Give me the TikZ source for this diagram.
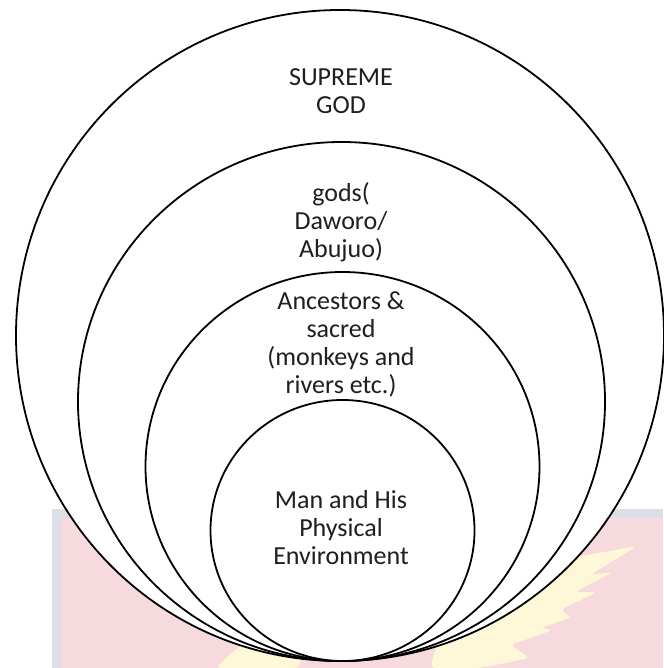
\documentclass[tikz,border=0pt]{standalone}
\usepackage{fontspec}
\setmainfont{Carlito}
\usetikzlibrary{shapes.geometric}
\definecolor{wmpink}{HTML}{F7DADD}
\definecolor{wmedge}{HTML}{DCDEE8}
\definecolor{wmyellow}{HTML}{FFF8D8}
\tikzset{
  ring/.style={ellipse, draw=black, line width=1.8pt, fill=white, inner sep=0pt},
  lbl/.style={align=center, font=\fontsize{26}{28}\selectfont, text=black!88, inner sep=0pt}
}
\begin{document}
\begin{tikzpicture}[x=1pt,y=-1pt]
\useasboundingbox (0,0) rectangle (663,668);
\fill[white] (0,0) rectangle (663,668);
% watermark background
\fill[wmedge] (52,509) rectangle (663,668);
\fill[wmpink] (61,518) rectangle (663,668);
% wing (right)
\fill[wmyellow, rounded corners=5pt] (450,600) -- (560,560) -- (637,546) -- (590,575) -- (613,572)
  -- (575,592) -- (597,592) -- (560,610) -- (572,617) -- (540,628) -- (553,630)
  -- (510,645) -- (530,658) -- (480,668) -- (430,668) -- cycle;
% wing (left, small)
\fill[wmyellow, rounded corners=5pt] (215,668) -- (240,646) -- (262,640) -- (300,650) -- (300,668) -- cycle;
% rings
\node[ring, minimum width=648pt, minimum height=651pt] (god) at (340,335.5) {};
\node[ring, minimum width=527pt, minimum height=519pt] (gods) at (341.5,401.5) {};
\node[ring, minimum width=394pt, minimum height=389pt] (anc) at (342.5,466.5) {};
\node[ring, minimum width=264pt, minimum height=261pt] (man) at (342.5,530.5) {};
% labels
\node[lbl] (tgod) at (341,90.7) {SUPREME\\GOD};
\node[lbl] (tgods) at (341,222) {gods(\\Daworo/\\Abujuo)};
\node[lbl] (tanc) at (341,344) {Ancestors \&\\sacred\\(monkeys and\\rivers etc.)};
\node[lbl] (tman) at (341,527.3) {Man and His\\Physical\\Environment};
\end{tikzpicture}
\end{document}
